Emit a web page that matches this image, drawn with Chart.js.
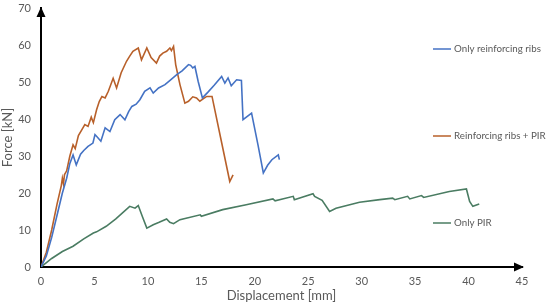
<!DOCTYPE html>
<html>
<head>
<meta charset="utf-8">
<script src="https://cdn.jsdelivr.net/npm/chart.js@4/dist/chart.umd.min.js"></script>
<style>
  html, body { margin: 0; padding: 0; background: #fff; }
  #wrap { width: 550px; height: 304px; position: relative; }
</style>
</head>
<body>
<div id="wrap"><canvas id="myChart"></canvas></div>
<script>
// series (displacement mm / force kN)
const ribsX = [0, 0.5, 1.0, 1.5, 2.0, 2.4, 2.7, 3.0, 3.3, 3.7, 4.0, 4.4, 4.86, 5.05, 5.3, 5.6, 6.0, 6.45, 6.9, 7.4, 7.85, 8.2, 8.5, 8.9, 9.25, 9.7, 10.2, 10.5, 11.0, 11.6, 12.1, 12.7, 13.2, 13.8, 14.0, 14.2, 14.4, 14.7, 15.1, 15.6, 16.2, 16.9, 17.2, 17.5, 17.8, 18.3, 18.75, 18.9, 19.7, 20.3, 20.8, 21.2, 21.6, 22.2, 22.3];
const ribsY = [0, 3, 8, 14, 20, 24, 28, 30.3, 27.6, 30.5, 31.5, 32.6, 33.5, 35.8, 35, 34, 37.6, 36.6, 39.8, 41.2, 39.8, 42, 43.4, 44, 45.2, 47.5, 48.4, 47, 48.4, 49.3, 50.5, 52, 53, 54.7, 54.5, 53.8, 54.2, 50.2, 45.7, 47.2, 49.1, 51.5, 49.7, 51.1, 49, 50.6, 50.4, 39.8, 41.6, 33, 25.4, 27.5, 29, 30.3, 29];

const ribsPirX = [0, 0.5, 1.0, 1.5, 1.9, 2.0, 2.1, 2.2, 2.4, 2.7, 3.0, 3.2, 3.5, 3.8, 4.1, 4.4, 4.7, 4.9, 5.2, 5.45, 5.7, 6.0, 6.3, 6.75, 7.07, 7.5, 8.0, 8.3, 8.6, 9.1, 9.4, 9.9, 10.3, 10.8, 11.1, 11.4, 11.75, 12.06, 12.2, 12.4, 12.6, 13.0, 13.46, 13.8, 14.2, 14.55, 14.86, 15.2, 15.5, 16.0, 16.8, 17.66, 17.97];
const ribsPirY = [0, 4, 10, 17, 22, 24, 22.5, 25, 26, 30, 33, 32, 35.5, 37, 38.5, 38, 40.5, 39, 42.5, 44.7, 46.1, 45.7, 47.5, 51, 48.4, 52.5, 55.6, 57, 58.3, 59.2, 56, 59.2, 56.6, 55.1, 57, 57.8, 58.3, 59.2, 58.5, 59.6, 54.7, 49.3, 44.3, 44.8, 46.0, 45.7, 44.8, 45.5, 46.1, 46.1, 35, 23.1, 24.9];

const pirX = [0, 1, 2, 3.0, 4.0, 4.9, 5.2, 6.1, 7.0, 8.3, 8.8, 9.1, 9.5, 9.9, 10.5, 11.0, 11.75, 12.05, 12.4, 13, 14.9, 15.0, 17, 19.2, 21.7, 21.9, 23.6, 23.7, 25.45, 25.6, 26.3, 27.0, 27.6, 29.8, 31.7, 32.9, 33.1, 34.3, 34.5, 35.6, 35.8, 38.2, 39.8, 40.1, 40.4, 41.0];
const pirY = [0, 2.3, 4.2, 5.6, 7.6, 9.2, 9.5, 11, 13, 16.4, 15.9, 16.6, 13.5, 10.5, 11.4, 12, 13, 12.1, 11.7, 12.8, 14.1, 13.7, 15.5, 16.8, 18.4, 17.9, 19.1, 18.2, 19.8, 19.1, 18, 15, 15.9, 17.5, 18.2, 18.6, 18.2, 19.1, 18.4, 19.3, 18.8, 20.4, 21.1, 17.7, 16.4, 17];

const seriesNames = ["Only reinforcing ribs", "Reinforcing ribs + PIR", "Only PIR"];
const seriesColors = ["#4472c4", "#b8602a", "#4a7c62"];
const legendY = [49, 136, 223];

function pts(xs, ys) {
  return xs.map(function (x, i) { return { x: x, y: ys[i] }; });
}

const greyText = "#595959";
const fontFamily = "Lato, 'Open Sans', sans-serif";

// arrow heads on the axes + legend placed beside each curve
const extras = {
  id: "extras",
  afterDraw: function (chart) {
    const ctx = chart.ctx;
    const a = chart.chartArea;
    ctx.save();
    ctx.fillStyle = "#000";
    // y arrow
    ctx.beginPath();
    ctx.moveTo(a.left, a.top - 1);
    ctx.lineTo(a.left - 4.5, a.top + 9);
    ctx.lineTo(a.left + 4.5, a.top + 9);
    ctx.closePath();
    ctx.fill();
    // x arrow
    ctx.beginPath();
    ctx.moveTo(a.right + 2, a.bottom);
    ctx.lineTo(a.right - 8, a.bottom - 4.5);
    ctx.lineTo(a.right - 8, a.bottom + 4.5);
    ctx.closePath();
    ctx.fill();

    // legend, sized so the first label is about 87px wide like the original
    ctx.font = "10px " + fontFamily;
    const w = ctx.measureText(seriesNames[0]).width;
    const size = Math.min(11, 10 * 87 / w);
    ctx.font = size.toFixed(2) + "px " + fontFamily;
    ctx.textBaseline = "middle";
    ctx.textAlign = "left";
    for (let i = 0; i < seriesNames.length; i++) {
      ctx.strokeStyle = seriesColors[i];
      ctx.lineWidth = 1.5;
      ctx.beginPath();
      ctx.moveTo(433, legendY[i]);
      ctx.lineTo(451, legendY[i]);
      ctx.stroke();
      ctx.fillStyle = greyText;
      ctx.fillText(seriesNames[i], 454, legendY[i]);
    }
    ctx.restore();
  }
};

const ctx = document.getElementById("myChart").getContext("2d");
const myChart = new Chart(ctx, {
  type: "line",
  data: {
    datasets: [
      { label: seriesNames[0], data: pts(ribsX, ribsY), borderColor: seriesColors[0] },
      { label: seriesNames[1], data: pts(ribsPirX, ribsPirY), borderColor: seriesColors[1] },
      { label: seriesNames[2], data: pts(pirX, pirY), borderColor: seriesColors[2] }
    ]
  },
  options: {
    responsive: true,
    maintainAspectRatio: false,
    animation: false,
    layout: { padding: { left: 0, right: 28, top: 8, bottom: 0 } },
    elements: {
      point: { radius: 0 },
      line: { borderWidth: 1.6, tension: 0 }
    },
    plugins: {
      legend: { display: false },
      tooltip: { enabled: false }
    },
    scales: {
      x: {
        type: "linear",
        min: 0,
        max: 45,
        grid: { display: false, drawTicks: false },
        border: { color: "#000", width: 2 },
        ticks: { stepSize: 5, color: greyText, font: { family: fontFamily, size: 11 }, padding: 8 },
        title: { display: true, text: "Displacement [mm]", color: greyText, font: { family: fontFamily, size: 13 }, padding: { top: 0, bottom: 0 } },
        afterFit: function (s) { s.height = 37; }
      },
      y: {
        min: 0,
        max: 70,
        grid: { display: false, drawTicks: false },
        border: { color: "#000", width: 2 },
        ticks: { stepSize: 10, color: greyText, font: { family: fontFamily, size: 11 }, padding: 10 },
        title: { display: true, text: "Force [kN]", color: greyText, font: { family: fontFamily, size: 13 }, padding: { top: 0, bottom: 0 } },
        afterFit: function (s) { s.width = 41; s.paddingTop = 0; s.paddingBottom = 0; }
      }
    }
  },
  plugins: [extras]
});
</script>
</body>
</html>
